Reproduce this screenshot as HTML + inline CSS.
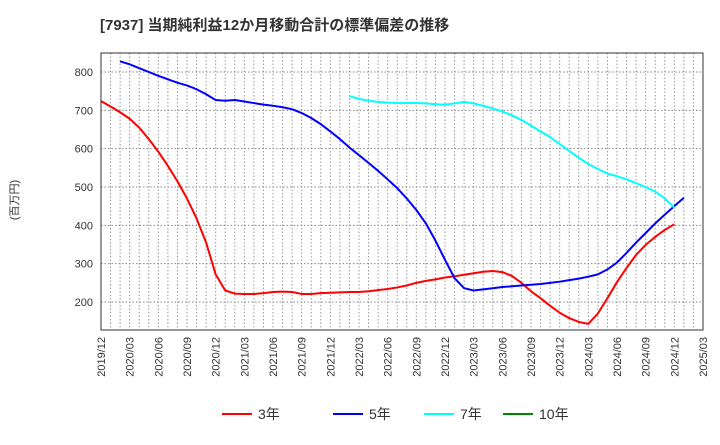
<!DOCTYPE html>
<html><head><meta charset="utf-8"><style>
body{margin:0;background:#fff;width:720px;height:440px;overflow:hidden;font-family:"Liberation Sans","Noto Sans CJK JP",sans-serif;}
</style></head><body>
<svg id="chart" width="720" height="440" xmlns="http://www.w3.org/2000/svg" font-family="Liberation Sans, Noto Sans CJK JP, sans-serif">
<text x="100" y="30" font-size="15" font-weight="bold" fill="#333">[7937]  当期純利益12か月移動合計の標準偏差の推移</text>
<text transform="translate(18,200) rotate(-90)" font-size="11" fill="#333" text-anchor="middle">(百万円)</text>
<g id="grid"></g><g id="series"></g><g id="axes"></g><g id="legend"></g>
</svg>
<script>
const xLabels=["2019/12","2020/03","2020/06","2020/09","2020/12","2021/03","2021/06","2021/09","2021/12","2022/03","2022/06","2022/09","2022/12","2023/03","2023/06","2023/09","2023/12","2024/03","2024/06","2024/09","2024/12","2025/03"];
const yTicks=[200,300,400,500,600,700,800];
const red3=[724,710,695,678,655,625,592,555,515,470,418,355,272,230,222,221,221,223,226,227,226,221,221,223,224,225,226,226,228,231,234,238,243,250,255,259,264,267,271,275,279,281,278,268,250,228,210,190,172,158,148,143,170,210,252,289,323,349,370,388,403];
const red3Start=0;
const blue5=[828,820,810,800,790,781,772,765,755,742,727,725,727,723,719,715,712,708,703,693,680,664,645,625,603,583,563,542,520,497,470,440,405,360,310,262,236,230,233,236,239,241,243,245,247,250,253,257,261,266,272,285,303,328,355,380,405,428,450,472];
const blue5Start=1;
const cyan7=[737,730,725,722,720,719,719,719,718,716,715,718,722,718,712,705,697,687,675,660,645,630,612,594,576,560,547,535,528,520,510,500,488,470,446];
const cyan7Start=26;
const green10=[];
const X0=101,X1=703,Y0=53,Y1=330;
const months=63;
const xs=i=>X0+(X1-X0)*i/months;
const ys=v=>72+(800-v)*(302-72)/600;
const NS="http://www.w3.org/2000/svg";
function mk(t,a,p){const e=document.createElementNS(NS,t);for(const k in a)e.setAttribute(k,a[k]);p.appendChild(e);return e;}
const grid=document.getElementById('grid'),axes=document.getElementById('axes'),ser=document.getElementById('series'),leg=document.getElementById('legend');
for(let i=1;i<months;i++){const l=mk('line',{x1:xs(i),x2:xs(i),y1:Y0,y2:Y1,stroke:'#999','stroke-dasharray':'1.5,2','stroke-width':1},grid);

}
yTicks.forEach(v=>{const l=mk('line',{x1:X0,x2:X1,y1:ys(v),y2:ys(v),stroke:'#888','stroke-dasharray':'1.5,2','stroke-width':1},grid);


const t=mk('text',{x:X0-8,y:ys(v)+4,'font-size':11,fill:'#333','text-anchor':'end'},axes);t.textContent=v;

});
xLabels.forEach((s,i)=>{const x=xs(i*3);const t=mk('text',{transform:`translate(${x+4},337) rotate(-90)`,'font-size':11,fill:'#333','text-anchor':'end'},axes);t.textContent=s;

});
const fr=mk('rect',{x:X0,y:Y0,width:X1-X0,height:Y1-Y0,fill:'none',stroke:'#333','stroke-width':1},axes);


function line(arr,start,color,name){if(!arr.length)return;const p=mk('polyline',{points:arr.map((v,i)=>xs(start+i)+','+ys(v)).join(' '),fill:'none',stroke:color,'stroke-width':2,'stroke-linejoin':'round'},ser);

}
line(red3,red3Start,'#f00','line-3y');
line(blue5,blue5Start+1,'#00f','line-5y');
line(cyan7,cyan7Start,'#0ff','line-7y');
line(green10,0,'#080','line-10y');
[["3年","#f00",222],["5年","#00f",333],["7年","#0ff",424],["10年","#080",503]].forEach(([n,c,x])=>{
const g=mk('g',{},leg);


mk('line',{x1:x,x2:x+30,y1:414,y2:414,stroke:c,'stroke-width':2},g);
const t=mk('text',{x:x+36,y:419,'font-size':14,fill:'#333'},g);t.textContent=n;});
</script>
</body></html>
